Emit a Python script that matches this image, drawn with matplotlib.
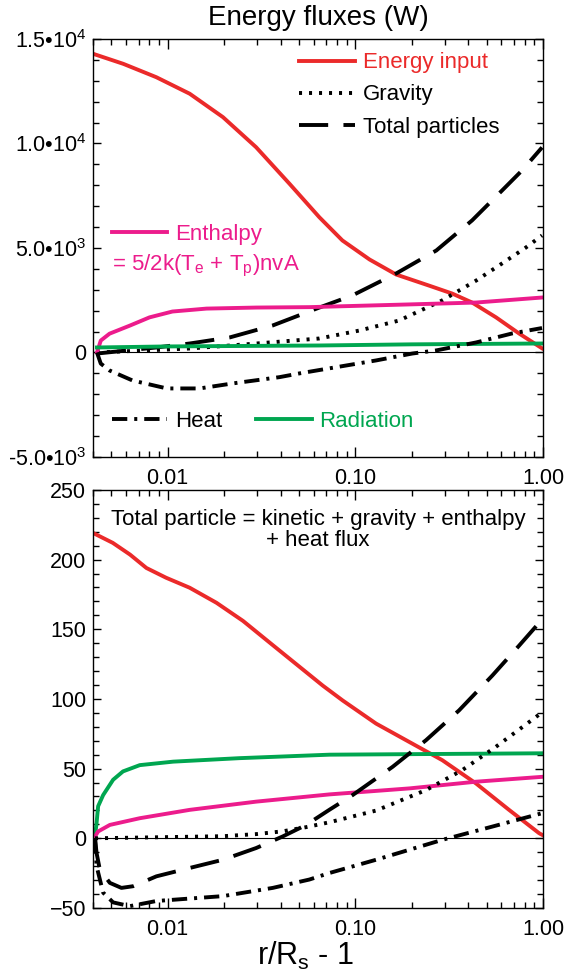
import numpy as np
import matplotlib
matplotlib.use("Agg")
import matplotlib.pyplot as plt
from matplotlib.ticker import FixedLocator, FixedFormatter, MultipleLocator, LogLocator, NullFormatter
from matplotlib.lines import Line2D

plt.rcParams['font.family'] = ['Liberation Sans', 'DejaVu Sans']
plt.rcParams['mathtext.fontset'] = 'custom'
plt.rcParams['mathtext.rm'] = 'Liberation Sans'
plt.rcParams['mathtext.it'] = 'Liberation Sans:italic'
plt.rcParams['lines.scale_dashes'] = False

RED = '#EB2A2A'
GREEN = '#00A650'
MAGENTA = '#EC1C8C'

# --- top panel: energy fluxes (W) ---
top_energy_x = [0.0041, 0.0058, 0.0087, 0.0131, 0.0197, 0.0296, 0.0446, 0.0643, 0.0853,
                0.119, 0.165, 0.247, 0.328, 0.419, 0.562, 0.745, 0.988]
top_energy = [14260, 13810, 13170, 12380, 11260, 9820, 8070, 6470, 5360,
              4450, 3730, 3200, 2820, 2390, 1680, 910, 200]

top_enth_x = [0.0042, 0.0044, 0.0049, 0.0063, 0.0080, 0.0106, 0.0161, 0.0297, 0.057, 0.194, 0.44, 0.988]
top_enth = [0, 570, 900, 1290, 1680, 1960, 2100, 2150, 2170, 2300, 2390, 2630]

top_rad_x = [0.0042, 0.01, 0.064, 0.2, 0.988]
top_rad = [240, 290, 335, 390, 430]

top_part_x = [0.0042, 0.0087, 0.0131, 0.0214, 0.0362, 0.0643, 0.0964, 0.165, 0.27, 0.419, 0.605, 0.773, 0.988]
top_part = [-50, 240, 430, 720, 1290, 2150, 2730, 3780, 4880, 6320, 7750, 8710, 9810]

top_grav_x = [0.0042, 0.0131, 0.0297, 0.0643, 0.105, 0.171, 0.29, 0.44, 0.605, 0.81, 0.988]
top_grav = [0, 190, 430, 670, 1050, 1530, 2490, 3440, 4260, 5020, 5600]

top_heat_x = [0.0042, 0.0044, 0.0049, 0.0065, 0.0099, 0.0148, 0.0222, 0.0394, 0.0504, 0.129,
              0.201, 0.27, 0.44, 0.684, 0.988]
top_heat = [0, -530, -860, -1340, -1720, -1720, -1480, -1180, -1000, -380,
            -50, 100, 480, 910, 1170]

# --- bottom panel ---
bot_energy_x = [0.0041, 0.0051, 0.0063, 0.0077, 0.0098, 0.0131, 0.0182, 0.0252, 0.0349, 0.0484,
                0.067, 0.0856, 0.129, 0.194, 0.291, 0.439, 0.659, 0.952, 0.988]
bot_energy = [218.4, 212, 203.6, 194, 187, 179.8, 169, 156, 140.5, 125,
              109.6, 98.9, 82.3, 69.1, 56, 39.4, 20.4, 3.7, 2.5]

bot_enth_x = [0.0041, 0.00426, 0.00492, 0.0071, 0.0131, 0.0296, 0.0728, 0.194, 0.439, 0.988]
bot_enth = [1.3, 4.9, 9.6, 14.4, 20.4, 26.3, 31.5, 35.8, 40.6, 44.1]

bot_rad_x = [0.0041, 0.00418, 0.00426, 0.00453, 0.00512, 0.00578, 0.0071, 0.0107, 0.0241, 0.0728, 0.988]
bot_rad = [1.3, 11, 23, 31, 42, 48, 52.5, 55, 57.5, 60, 61]

bot_grav_x = [0.0041, 0.0197, 0.0296, 0.041, 0.0547, 0.0728, 0.129, 0.238, 0.371, 0.56, 0.952]
bot_grav = [0, 1.5, 3, 5, 8, 11.5, 19.9, 34.6, 48.9, 65.6, 88.7]

bot_part_x = [0.0041, 0.00418, 0.00435, 0.00492, 0.00567, 0.00654, 0.00871, 0.0131, 0.0197, 0.0296,
              0.041, 0.0547, 0.0728, 0.0967, 0.158, 0.238, 0.357, 0.537, 0.745, 0.988]
bot_part = [0, -10.6, -22.5, -32, -35.6, -34.4, -27.3, -21.3, -15.4, -7,
            1.3, 9.6, 20.5, 31, 51.3, 70.4, 91.8, 116.8, 138.2, 157]

bot_heat_x = [0.0041, 0.00418, 0.00453, 0.00512, 0.00628, 0.00871, 0.0197, 0.0363, 0.0569, 0.0728,
              0.129, 0.291, 0.537, 0.988]
bot_heat = [0, -20, -39, -46, -48.7, -45, -41.5, -35.6, -29.6, -24.9,
            -15.4, -1.1, 8.4, 18]

x_ticks = [0.01, 0.1, 1.0]
x_ticklabels = ['0.01', '0.10', '1.00']
top_yticks = [-5000, 0, 5000, 10000, 15000]
top_yticklabels = ['-5.0\u2022' + r'10$^{\mathrm{3}}$', '0', '5.0\u2022' + r'10$^{\mathrm{3}}$',
                   '1.0\u2022' + r'10$^{\mathrm{4}}$', '1.5\u2022' + r'10$^{\mathrm{4}}$']

DASHED = (0, (21, 11))
DOTTED = (0, (2.2, 5))
DASHDOT = (0, (11, 5, 2.2, 5))
LW = 2.8
FS = 16
TICK_FS = 15.5

fig = plt.figure(figsize=(5.66, 9.74), dpi=100)
ax1 = fig.add_axes([0.1643, 0.5308, 0.7951, 0.4292])
ax2 = fig.add_axes([0.1643, 0.0678, 0.7951, 0.4292])


def style_axis(ax):
    ax.set_xscale('log')
    ax.set_xlim(0.004, 1.0)
    ax.xaxis.set_major_locator(FixedLocator(x_ticks))
    ax.xaxis.set_major_formatter(FixedFormatter(x_ticklabels))
    ax.xaxis.set_minor_locator(LogLocator(base=10, subs=np.arange(2, 10), numticks=20))
    ax.xaxis.set_minor_formatter(NullFormatter())
    ax.tick_params(axis='both', which='both', direction='in', top=True, right=True,
                   labelsize=TICK_FS, width=1.0, color='black')
    ax.tick_params(axis='x', which='major', length=7, pad=8)
    ax.tick_params(axis='x', which='minor', length=4)
    ax.tick_params(axis='y', which='major', length=6, pad=5)
    ax.tick_params(axis='y', which='minor', length=4.5)
    for s in ax.spines.values():
        s.set_linewidth(1.0)
    ax.axhline(0, color='black', lw=0.8, zorder=1)


style_axis(ax1)
ax1.set_ylim(-5000, 15000)
ax1.yaxis.set_major_locator(FixedLocator(top_yticks))
ax1.yaxis.set_major_formatter(FixedFormatter(top_yticklabels))
ax1.yaxis.set_minor_locator(MultipleLocator(1000))

ax1.plot(top_energy_x, top_energy, color=RED, lw=LW, label='Energy input')
ax1.plot(top_grav_x, top_grav, color='black', lw=LW, linestyle=DOTTED, label='Gravity')
ax1.plot(top_part_x, top_part, color='black', lw=LW, linestyle=DASHED, label='Total particles')
ax1.plot(top_enth_x, top_enth, color=MAGENTA, lw=LW, label='Enthalpy')
ax1.plot(top_rad_x, top_rad, color=GREEN, lw=LW, label='Radiation')
ax1.plot(top_heat_x, top_heat, color='black', lw=LW, linestyle=DASHDOT, label='Heat')

h_energy = Line2D([], [], color=RED, lw=LW)
h_grav = Line2D([], [], color='black', lw=LW, linestyle=DOTTED)
h_part = Line2D([], [], color='black', lw=LW, linestyle=DASHED)
h_enth = Line2D([], [], color=MAGENTA, lw=LW)
h_heat = Line2D([], [], color='black', lw=LW, linestyle=DASHDOT)
h_rad = Line2D([], [], color=GREEN, lw=LW)

leg_kw = dict(frameon=False, fontsize=FS, handlelength=2.5, handletextpad=0.36,
              borderpad=0, borderaxespad=0, loc='upper left')
leg1 = ax1.legend([h_energy, h_grav, h_part], ['Energy input', 'Gravity', 'Total particles'],
                  bbox_to_anchor=(0.458, 0.968), labelspacing=0.5,
                  labelcolor=[RED, 'black', 'black'], **leg_kw)
ax1.add_artist(leg1)
leg2 = ax1.legend([h_enth], ['Enthalpy'], bbox_to_anchor=(0.042, 0.558),
                  labelcolor=[MAGENTA], **leg_kw)
ax1.add_artist(leg2)
ax1.text(0.042, 0.457, r'= 5/2k(T$_{\mathrm{e}}$ + T$_{\mathrm{p}}$)nvA', color=MAGENTA,
         fontsize=FS, transform=ax1.transAxes, ha='left', va='center')
leg3 = ax1.legend([h_heat, h_rad], ['Heat', 'Radiation'], bbox_to_anchor=(0.042, 0.110),
                  ncol=2, columnspacing=1.5, labelcolor=['black', GREEN], **leg_kw)

style_axis(ax2)
ax2.set_ylim(-50, 250)
ax2.yaxis.set_major_locator(MultipleLocator(50))
ax2.yaxis.set_minor_locator(MultipleLocator(10))

ax2.plot(bot_energy_x, bot_energy, color=RED, lw=LW)
ax2.plot(bot_rad_x, bot_rad, color=GREEN, lw=LW)
ax2.plot(bot_enth_x, bot_enth, color=MAGENTA, lw=LW)
ax2.plot(bot_grav_x, bot_grav, color='black', lw=LW, linestyle=DOTTED)
ax2.plot(bot_part_x, bot_part, color='black', lw=LW, linestyle=DASHED)
ax2.plot(bot_heat_x, bot_heat, color='black', lw=LW, linestyle=DASHDOT)

ax2.text(0.5, 0.954, 'Total particle = kinetic + gravity + enthalpy\n+ heat flux',
         fontsize=FS, transform=ax2.transAxes, ha='center', va='top', linespacing=1.0)

fig.text(0.562, 0.9815, 'Energy fluxes (W)', fontsize=20, ha='center', va='center')
fig.text(0.539, 0.0185, r'r/R$_{\mathrm{s}}$ - 1', fontsize=22, ha='center', va='center')

fig.savefig('out.png', dpi=100)
